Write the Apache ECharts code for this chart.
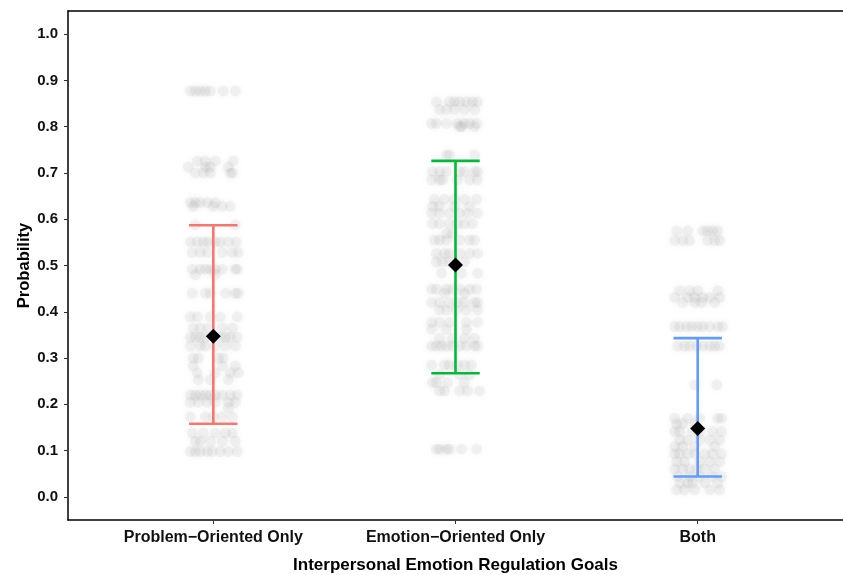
<!DOCTYPE html>
<html>
<head>
<meta charset="utf-8">
<script src="https://cdn.jsdelivr.net/npm/echarts@6/dist/echarts.min.js"></script>
<style>
  html, body { margin: 0; padding: 0; background: #fff; }
  #chart { width: 843px; height: 575px; }
</style>
</head>
<body>
<div id="chart"></div>
<script>
// Goal categories along the x axis (positions 1, 2, 3)
const categories = ['Problem\u2212Oriented Only', 'Emotion\u2212Oriented Only', 'Both'];

// Per-participant predicted probabilities: [probability, [horizontal jitter offsets]]
const problemPoints = [
  [0.877, [-0.095, -0.074, -0.054, -0.033, -0.012, 0.041, 0.091]],
  [0.726, [-0.066, -0.033, 0.008, 0.083]],
  [0.713, [-0.103, -0.033, -0.012, 0.062]],
  [0.700, [-0.074, -0.041, -0.012, 0.070, 0.079]],
  [0.636, [-0.095, -0.074, -0.054, -0.025, 0.008]],
  [0.628, [-0.083, 0.000, 0.037, 0.070]],
  [0.588, [-0.074, 0.091]],
  [0.551, [-0.095, -0.066, -0.041, -0.021, 0.008, 0.029, 0.062, 0.095]],
  [0.528, [-0.087, -0.054, -0.025, 0.037, 0.079, 0.103]],
  [0.492, [-0.087, -0.054, -0.033, -0.012, 0.008, 0.037, 0.091, 0.099]],
  [0.480, [-0.074, 0.008]],
  [0.440, [-0.087, -0.033, -0.012, 0.050, 0.091, 0.103]],
  [0.389, [-0.095, -0.066, -0.012, 0.029, 0.099]],
  [0.365, [-0.083, -0.054, -0.021, 0.037, 0.079]],
  [0.345, [-0.095, -0.074, -0.054, -0.033, 0.029, 0.050, 0.070, 0.099]],
  [0.326, [-0.095, -0.054, -0.033, 0.008, 0.050, 0.091]],
  [0.300, [-0.083, -0.062, 0.021, 0.041]],
  [0.283, [-0.083, 0.037, 0.091]],
  [0.268, [-0.066, 0.008, 0.070, 0.103]],
  [0.253, [-0.062, -0.012, 0.062]],
  [0.220, [-0.095, -0.074, -0.054, -0.033, -0.012, 0.008, 0.037, 0.070, 0.099]],
  [0.204, [-0.095, -0.062, -0.025, 0.008, 0.062, 0.091]],
  [0.192, [0.062]],
  [0.173, [-0.095, -0.033, 0.000, 0.037, 0.079]],
  [0.138, [-0.087, -0.041, 0.008, 0.050, 0.079]],
  [0.120, [-0.074, -0.054, -0.012, 0.037, 0.091]],
  [0.098, [-0.095, -0.074, -0.054, -0.025, -0.004, 0.029, 0.062, 0.099]]
];

const emotionPoints = [
  [0.854, [-0.079, -0.025, -0.004, 0.017, 0.045, 0.070, 0.091]],
  [0.837, [-0.066, -0.037, -0.004, 0.037, 0.079]],
  [0.807, [-0.099, -0.079, -0.037, 0.008, 0.037, 0.058, 0.087]],
  [0.800, [0.017, 0.025, 0.079]],
  [0.739, [-0.037, -0.025, 0.079]],
  [0.703, [-0.095, -0.066, -0.037, 0.017, 0.037, 0.079, 0.091]],
  [0.685, [-0.099, -0.066, -0.054, 0.008, 0.058, 0.091]],
  [0.643, [-0.087, -0.045, -0.004, 0.037, 0.087]],
  [0.628, [-0.095, -0.066, -0.004, 0.058]],
  [0.613, [-0.099, -0.066, -0.025, 0.017, 0.050, 0.091]],
  [0.590, [-0.095, -0.066, -0.025, 0.008, 0.037, 0.070]],
  [0.569, [-0.037, -0.012]],
  [0.555, [-0.087, -0.066, -0.037, 0.017, 0.058, 0.079]],
  [0.526, [-0.079, -0.045, -0.025, 0.017, 0.058, 0.091]],
  [0.508, [-0.079, -0.054, -0.025, 0.037]],
  [0.483, [-0.058, 0.025, 0.091]],
  [0.449, [-0.099, -0.079, -0.037, -0.012, 0.017, 0.058, 0.087]],
  [0.440, [-0.045, 0.037]],
  [0.420, [-0.099, -0.066, -0.025, 0.008, 0.037, 0.079, 0.091]],
  [0.404, [-0.066, -0.037, 0.004, 0.045, 0.091]],
  [0.377, [-0.099, -0.066, -0.025, 0.045, 0.091]],
  [0.362, [-0.099, -0.037, 0.045]],
  [0.343, [-0.066, -0.012, 0.037, 0.079]],
  [0.326, [-0.099, -0.079, -0.058, -0.037, -0.012, 0.017, 0.045, 0.079, 0.091]],
  [0.285, [-0.099, -0.045, -0.025, 0.008, 0.037, 0.066]],
  [0.264, [-0.066, 0.017, 0.058]],
  [0.247, [-0.095, -0.079, -0.033, 0.037]],
  [0.229, [-0.066, -0.045, 0.017, 0.050, 0.099]],
  [0.103, [-0.079, -0.066, -0.037, -0.025, 0.025, 0.087]]
];

const bothPoints = [
  [0.575, [-0.087, -0.041, 0.021, 0.041, 0.062, 0.083]],
  [0.554, [-0.095, -0.062, -0.033, 0.041, 0.070, 0.091]],
  [0.446, [-0.074, -0.033, 0.000, 0.083]],
  [0.431, [-0.095, -0.041, -0.012, 0.021, 0.050, 0.091]],
  [0.420, [-0.062, -0.012, 0.017, 0.070]],
  [0.368, [-0.095, -0.074, -0.045, -0.025, 0.000, 0.021, 0.050, 0.083, 0.103]],
  [0.326, [-0.083, -0.054, -0.033, -0.004, 0.021, 0.050, 0.070, 0.091]],
  [0.242, [-0.012, 0.079]],
  [0.170, [-0.095, -0.041, 0.008, 0.083, 0.099]],
  [0.158, [-0.087, -0.062, -0.012]],
  [0.141, [-0.095, -0.074, -0.021, 0.008, 0.062, 0.099]],
  [0.123, [-0.074, -0.041, 0.008, 0.050, 0.091]],
  [0.109, [-0.095, -0.062, -0.012, 0.070]],
  [0.093, [-0.095, -0.074, -0.041, -0.012, 0.029, 0.062, 0.099]],
  [0.076, [-0.087, -0.054, 0.008, 0.050, 0.091]],
  [0.060, [-0.095, -0.062, -0.033, -0.004, 0.029, 0.070]],
  [0.044, [-0.083, -0.033, 0.008, 0.058, 0.099]],
  [0.030, [-0.074, -0.041, -0.021, 0.029, 0.083]],
  [0.015, [-0.087, -0.054, -0.012, 0.050, 0.091]]
];

// Group means and interval bounds
const means = [0.347, 0.501, 0.148];
const lower = [0.158, 0.267, 0.044];
const upper = [0.587, 0.726, 0.343];
const barColors = ['#F8766D', '#00BA38', '#619CFF'];

// Axis tick labels
const yTicks = [0.0, 0.1, 0.2, 0.3, 0.4, 0.5, 0.6, 0.7, 0.8, 0.9, 1.0];
const xTicks = [1, 2, 3];

function jittered(groupPoints, pos) {
  const out = [];
  groupPoints.forEach(([v, offsets]) => {
    offsets.forEach(o => out.push([pos + o, v]));
  });
  return out;
}
const pointData = [].concat(
  jittered(problemPoints, 1),
  jittered(emotionPoints, 2),
  jittered(bothPoints, 3)
);

const barData = xTicks.map((x, i) => [x, lower[i], upper[i], i]);
const meanData = xTicks.map((x, i) => [x, means[i]]);

const font = '"Liberation Sans", Arial, Helvetica, sans-serif';
const chart = echarts.init(document.getElementById('chart'), null, { renderer: 'canvas' });

chart.setOption({
  animation: false,
  backgroundColor: '#ffffff',
  grid: { left: 68, right: 0, top: 11, bottom: 55, containLabel: false, outerBoundsMode: 'none' },
  xAxis: [{
    type: 'value',
    min: 0.4,
    max: 3.6,
    name: 'Interpersonal Emotion Regulation Goals',
    nameLocation: 'middle',
    nameGap: 37,
    nameTextStyle: { fontFamily: font, fontWeight: 'bold', fontSize: 17, color: '#000' },
    axisLine: { show: true, onZero: false, lineStyle: { color: '#000', width: 1.5 } },
    axisTick: { show: true, customValues: xTicks, length: 4, lineStyle: { color: '#333', width: 1 } },
    axisLabel: {
      customValues: xTicks,
      formatter: v => categories[Math.round(v) - 1] || '',
      fontFamily: font, fontWeight: 'bold', fontSize: 16, color: '#111', margin: 10
    },
    splitLine: { show: false }
  }, {
    type: 'value',
    position: 'top',
    min: 0.4,
    max: 3.6,
    axisLine: { show: true, onZero: false, lineStyle: { color: '#000', width: 1.5 } },
    axisTick: { show: false },
    axisLabel: { show: false },
    splitLine: { show: false }
  }],
  yAxis: {
    type: 'value',
    min: -0.05,
    max: 1.05,
    name: 'Probability',
    nameLocation: 'middle',
    nameGap: 35,
    nameMoveOverlap: false,
    nameTextStyle: { fontFamily: font, fontWeight: 'bold', fontSize: 16.5, color: '#000' },
    axisLine: { show: true, onZero: false, lineStyle: { color: '#000', width: 1.5 } },
    axisTick: { show: true, customValues: yTicks, length: 4, lineStyle: { color: '#333', width: 1 } },
    axisLabel: {
      customValues: yTicks,
      formatter: v => v.toFixed(1),
      fontFamily: font, fontWeight: 'bold', fontSize: 15, color: '#111', margin: 10
    },
    splitLine: { show: false }
  },
  series: [{
    type: 'scatter',
    data: pointData,
    symbol: 'circle',
    symbolSize: 11,
    itemStyle: {
      color: 'rgba(110,110,110,0.07)',
      opacity: 1,
      shadowBlur: 6,
      shadowColor: 'rgba(110,110,110,0.8)'
    },
    silent: true,
    z: 1
  }, {
    type: 'custom',
    data: barData,
    z: 3,
    renderItem: (params, api) => {
      const x = api.value(0);
      const lo = api.coord([x, api.value(1)]);
      const hi = api.coord([x, api.value(2)]);
      const capL = api.coord([x - 0.1, api.value(1)])[0];
      const capR = api.coord([x + 0.1, api.value(1)])[0];
      const color = barColors[api.value(3)];
      const style = { stroke: color, lineWidth: 2.6, fill: null };
      return {
        type: 'group',
        children: [
          { type: 'line', shape: { x1: lo[0], y1: lo[1], x2: hi[0], y2: hi[1] }, style },
          { type: 'line', shape: { x1: capL, y1: hi[1], x2: capR, y2: hi[1] }, style },
          { type: 'line', shape: { x1: capL, y1: lo[1], x2: capR, y2: lo[1] }, style }
        ]
      };
    }
  }, {
    type: 'scatter',
    data: meanData,
    symbol: 'diamond',
    symbolSize: [15, 15],
    itemStyle: { color: '#000', opacity: 1 },
    z: 5
  }]
});
</script>
</body>
</html>
